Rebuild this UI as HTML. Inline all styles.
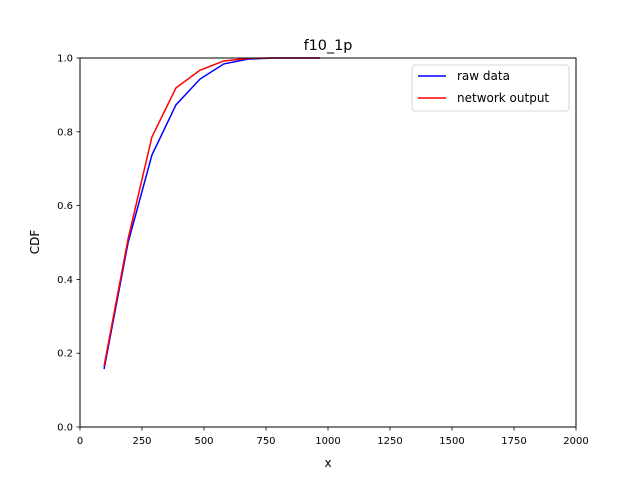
<!DOCTYPE html>
<html><head><meta charset="utf-8"><style>
body{margin:0;background:#fff}
svg text{font-family:"DejaVu Sans","Liberation Sans",sans-serif;fill:#000}
</style></head><body>
<svg id="chart" width="640" height="480" viewBox="0 0 640 480">
<rect width="640" height="480" fill="#fff"/>
<text x="328" y="50" font-size="14.4" text-anchor="middle">f10_1p</text>
<g id="ticks"></g>
<g id="lines"></g>
<rect x="80" y="58" width="496" height="369" fill="none" stroke="#000" stroke-width="1"/>
<text x="328" y="467" font-size="12" text-anchor="middle">x</text>
<text x="39" y="242" font-size="12" text-anchor="middle" transform="rotate(-90 39 242)">CDF</text>
<g>
<rect x="412" y="65" width="157" height="46" rx="3" fill="#fff" stroke="#ccc" stroke-width="0.8"/>
<line x1="418" y1="76" x2="446" y2="76" stroke="#0000ff" stroke-width="1.5"/>
<text x="457" y="80" font-size="12">raw data</text>
<line x1="418" y1="98" x2="446" y2="98" stroke="#ff0000" stroke-width="1.5"/>
<text x="457" y="102" font-size="12">network output</text>
</g>
</svg>
<script>
const xValues=[97,194,290,387,484,580,677,774,870,967];
const rawData=[0.157,0.50,0.737,0.873,0.943,0.984,0.997,1,1,1];
const networkOutput=[0.165,0.51,0.786,0.919,0.967,0.992,0.999,1,1,1];
const xTicks=[0,250,500,750,1000,1250,1500,1750,2000];
const yTicks=[0,0.2,0.4,0.6,0.8,1.0];
const X0=80,X1=576,Y0=427,Y1=58;
const sx=v=>X0+(v-0)/(2000-0)*(X1-X0);
const sy=v=>Y0-(v-0)/(1-0)*(Y0-Y1);
const NS="http://www.w3.org/2000/svg";
const tg=document.getElementById('ticks');
xTicks.forEach(t=>{
 const l=document.createElementNS(NS,'line');
 l.setAttribute('x1',sx(t));l.setAttribute('x2',sx(t));l.setAttribute('y1',Y0);l.setAttribute('y2',Y0+3.5);l.setAttribute('stroke','#000');l.setAttribute('stroke-width','0.8');
 
 
 tg.appendChild(l);
 const s=document.createElementNS(NS,'text');
 s.setAttribute('x',sx(t));s.setAttribute('y',Y0+17);s.setAttribute('font-size','10');s.setAttribute('text-anchor','middle');s.textContent=t;
 
 
 tg.appendChild(s);
});
yTicks.forEach(t=>{
 const l=document.createElementNS(NS,'line');
 l.setAttribute('x1',X0-3.5);l.setAttribute('x2',X0);l.setAttribute('y1',sy(t));l.setAttribute('y2',sy(t));l.setAttribute('stroke','#000');l.setAttribute('stroke-width','0.8');
 
 
 tg.appendChild(l);
 const s=document.createElementNS(NS,'text');
 s.setAttribute('x',X0-7);s.setAttribute('y',sy(t)+3.5);s.setAttribute('font-size','10');s.setAttribute('text-anchor','end');s.textContent=t.toFixed(1);
 
 
 tg.appendChild(s);
});
const lg=document.getElementById('lines');
function drawLine(vals,color,name){
 const p=document.createElementNS(NS,'polyline');
 p.setAttribute('points',xValues.map((x,i)=>sx(x)+','+sy(vals[i])).join(' '));
 p.setAttribute('fill','none');p.setAttribute('stroke',color);p.setAttribute('stroke-width','1.5');
 
 
 lg.appendChild(p);
}
drawLine(rawData,'#0000ff','raw-data-line');
drawLine(networkOutput,'#ff0000','network-output-line');
</script>
</body></html>
